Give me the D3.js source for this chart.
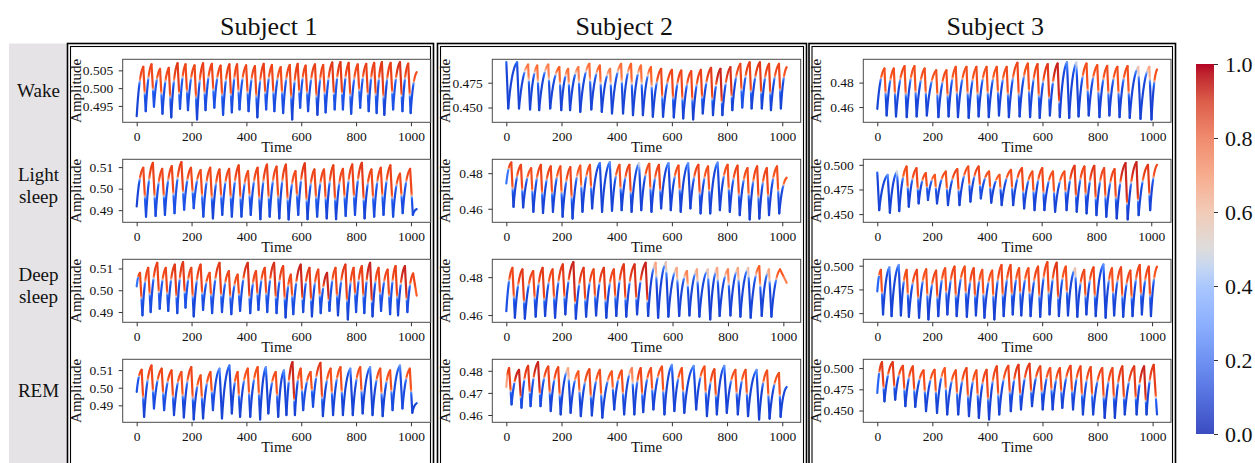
<!DOCTYPE html>
<html><head><meta charset="utf-8">
<script src="https://cdn.jsdelivr.net/npm/d3@7"></script>
<style>body{margin:0;background:#fff}svg{display:block}text{font-family:"Liberation Serif","Times New Roman",serif;fill:#111}</style>
</head><body><script>
// ---------------- DATA ----------------
const subjects = ["Subject 1","Subject 2","Subject 3"];
const stages = [["Wake"],["Light","sleep"],["Deep","sleep"],["REM"]];
const xTickLabels = ["0","200","400","600","800","1000"];
const cbTickLabels = ["0.0","0.2","0.4","0.6","0.8","1.0"];
const yTicksS1 = [["0.495","0.500","0.505"],["0.49","0.50","0.51"],["0.49","0.50","0.51"],["0.49","0.50","0.51"]];
const yTicksS2 = [["0.450","0.475"],["0.46","0.48"],["0.46","0.48"],["0.46","0.47","0.48"]];
const yTicksS3 = [["0.46","0.48"],["0.450","0.475","0.500"],["0.450","0.475","0.500"],["0.450","0.475","0.500"]];

// series: extrema of each waveform, [time, amplitude, colour weight]
const s1Wake = [[0,.4921,.05],[24,.5060,.85],[33,.4935,.08],[54,.5067,.85],[63,.4948,.1],[85,.5054,.82],[94,.4928,.08],[117,.5057,.85],[126,.4918,.05],[149,.5070,.9],[158,.4942,.1],[178,.5067,.85],[187,.4938,.08],[211,.5064,.85],[220,.4912,.05],[242,.5070,.88],[251,.4938,.08],[274,.5068,.85],[283,.4945,.1],[306,.5063,.85],[315,.4925,.08],[338,.5067,.88],[347,.4932,.08],[366,.5067,.85],[375,.4940,.1],[399,.5064,.85],[408,.4935,.08],[431,.5062,.85],[440,.4918,.05],[463,.5068,.88],[472,.4940,.1],[493,.5065,.85],[502,.4935,.08],[525,.5059,.82],[534,.4930,.08],[558,.5065,.85],[567,.4912,.05],[587,.5068,.88],[596,.4945,.1],[616,.5063,.85],[625,.4935,.08],[650,.5067,.88],[659,.4925,.05],[680,.5065,.85],[689,.4932,.08],[713,.5072,.9],[722,.4940,.1],[743,.5073,.9],[752,.4940,.1],[773,.5071,.88],[782,.4928,.08],[806,.5067,.85],[815,.4945,.1],[837,.5068,.88],[846,.4935,.08],[866,.5071,.88],[875,.4930,.08],[894,.5073,.9],[903,.4925,.05],[926,.5071,.88],[935,.4940,.1],[960,.5073,.92],[969,.4935,.08],[990,.5069,.88],[999,.4930,.08],[1021,.5045,.8]];
const s1Light = [[0,.4917,.05],[24,.5097,.85],[34,.4870,.08],[59,.5120,.88],[69,.4873,.08],[93,.5092,.85],[103,.4878,.08],[128,.5105,.85],[138,.4886,.1],[163,.5123,.88],[173,.4902,.1],[198,.5097,.85],[208,.4909,.1],[233,.5086,.82],[243,.4870,.08],[268,.5097,.85],[278,.4862,.05],[302,.5089,.85],[312,.4878,.08],[337,.5092,.85],[347,.4870,.08],[372,.5108,.88],[382,.4870,.08],[406,.5081,.82],[416,.4878,.08],[441,.5097,.85],[451,.4858,.05],[475,.5112,.88],[485,.4870,.08],[510,.5102,.85],[520,.4862,.05],[544,.5112,.88],[554,.4857,.05],[579,.5081,.82],[589,.4878,.08],[613,.5117,.9],[623,.4858,.05],[648,.5089,.85],[658,.4870,.08],[683,.5089,.85],[693,.4862,.05],[717,.5108,.88],[727,.4858,.05],[752,.5092,.85],[762,.4873,.08],[786,.5112,.88],[796,.4878,.08],[821,.5120,.9],[831,.4862,.05],[856,.5089,.85],[866,.4870,.08],[890,.5097,.85],[900,.4878,.08],[925,.5108,.88],[935,.4870,.08],[960,.5070,.82],[970,.4886,.08],[997,.5092,.85],[1007,.4878,.08],[1021,.4905,.1]];
const s1Deep = [[0,.5018,.3],[12,.5080,.85],[21,.4885,.08],[42,.5103,.85],[51,.4900,.08],[75,.5126,.88],[84,.4915,.1],[106,.5103,.85],[115,.4905,.08],[139,.5118,.9],[148,.4895,.08],[169,.5129,.9],[178,.4920,.1],[199,.5103,.85],[208,.4880,.05],[233,.5118,.88],[242,.4910,.08],[266,.5080,.82],[275,.4895,.08],[302,.5126,.9],[311,.4900,.08],[336,.5088,.85],[345,.4890,.08],[368,.5072,.82],[377,.4905,.08],[405,.5126,.92],[414,.4895,.08],[435,.5088,.85],[444,.4910,.08],[467,.5103,.85],[476,.4900,.08],[501,.5126,.92],[510,.4895,.08],[534,.5111,.88],[543,.4875,.05],[562,.5072,.82],[571,.4890,.08],[598,.5118,.95],[607,.4900,.08],[630,.5103,.9],[639,.4880,.05],[662,.5095,.85],[671,.4895,.08],[694,.5080,.95],[703,.4905,.08],[725,.5103,.85],[734,.4885,.05],[761,.5118,.9],[770,.4866,.05],[791,.5103,.85],[800,.4900,.08],[821,.5111,.88],[830,.4895,.08],[851,.5126,.95],[860,.4880,.05],[882,.5103,.85],[891,.4905,.08],[915,.5095,.85],[924,.4890,.08],[944,.5111,.88],[953,.4885,.05],[978,.5111,.95],[987,.4900,.08],[1008,.5077,.85],[1021,.4975,.7]];
const s1REM = [[0,.4976,.1],[18,.5102,.85],[27,.4835,.05],[54,.5126,.85],[63,.4882,.08],[91,.5108,.85],[100,.4873,.08],[127,.5098,.85],[136,.4845,.05],[163,.5089,.8],[172,.4831,.05],[199,.5117,.85],[208,.4820,.05],[233,.5070,.8],[242,.4826,.05],[269,.5089,.8],[278,.4873,.08],[302,.5108,.45],[311,.4826,.05],[338,.5126,.4],[347,.4854,.05],[368,.5089,.8],[377,.4835,.05],[405,.5108,.8],[414,.4835,.05],[441,.5117,.8],[450,.4820,.05],[471,.5117,.45],[480,.4854,.05],[507,.5089,.8],[516,.4835,.05],[537,.5098,.45],[546,.4845,.05],[568,.5145,.95],[577,.4845,.05],[598,.5108,.8],[607,.4873,.08],[634,.5089,.8],[643,.4892,.08],[670,.5141,.9],[679,.4839,.05],[707,.5108,.8],[716,.4845,.05],[743,.5117,.8],[752,.4845,.05],[779,.5108,.45],[788,.4845,.05],[815,.5117,.8],[824,.4854,.05],[851,.5117,.45],[860,.4845,.05],[888,.5108,.8],[897,.4839,.05],[924,.5098,.8],[933,.4873,.08],[960,.5126,.45],[969,.4882,.08],[996,.5108,.8],[1005,.4858,.05],[1021,.4912,.15]];

const s2Wake = [[0,.4957,.3],[7,.4490,.05],[39,.4956,.35],[46,.4490,.05],[79,.4933,.67],[86,.4480,.05],[112,.4923,.68],[119,.4473,.05],[152,.4933,.66],[159,.4490,.05],[192,.4907,.7],[199,.4473,.05],[224,.4890,.68],[231,.4473,.05],[261,.4907,.66],[268,.4457,.05],[301,.4940,.68],[308,.4480,.05],[339,.4923,.7],[346,.4457,.05],[376,.4890,.66],[383,.4440,.05],[416,.4940,.68],[423,.4440,.05],[452,.4940,.7],[459,.4423,.05],[488,.4923,.68],[495,.4423,.05],[524,.4907,.7],[531,.4407,.05],[561,.4890,.85],[568,.4407,.05],[600,.4880,.85],[607,.4400,.05],[634,.4873,.85],[641,.4390,.05],[670,.4867,.85],[677,.4380,.03],[705,.4880,.88],[712,.4440,.05],[742,.4900,.9],[749,.4423,.05],[776,.4890,.95],[783,.4423,.05],[812,.4907,.92],[819,.4473,.05],[848,.4940,.85],[855,.4500,.1],[882,.4956,.88],[889,.4490,.05],[919,.4956,.9],[926,.4490,.05],[952,.4940,.88],[959,.4473,.05],[988,.4940,.85],[995,.4490,.05],[1016,.4907,.8]];
const s2Light = [[0,.4743,.3],[18,.4860,.85],[26,.4611,.05],[53,.4847,.85],[61,.4608,.05],[90,.4828,.8],[98,.4583,.05],[125,.4847,.85],[133,.4577,.05],[161,.4838,.85],[169,.4583,.05],[196,.4838,.8],[204,.4555,.05],[232,.4834,.85],[240,.4545,.05],[268,.4842,.75],[276,.4583,.05],[303,.4847,.8],[311,.4602,.05],[339,.4857,.4],[347,.4583,.05],[375,.4862,.45],[383,.4589,.05],[410,.4847,.8],[418,.4592,.05],[446,.4847,.85],[454,.4583,.05],[481,.4857,.5],[489,.4592,.05],[518,.4853,.8],[526,.4583,.05],[553,.4847,.85],[561,.4602,.05],[588,.4857,.45],[596,.4592,.05],[624,.4843,.8],[632,.4583,.05],[659,.4857,.45],[667,.4602,.05],[696,.4847,.85],[704,.4574,.05],[731,.4838,.8],[739,.4574,.05],[766,.4860,.45],[774,.4592,.05],[802,.4847,.8],[810,.4583,.05],[838,.4842,.85],[846,.4564,.05],[874,.4828,.8],[882,.4540,.03],[909,.4838,.85],[917,.4545,.03],[944,.4828,.85],[952,.4564,.05],[981,.4838,.8],[989,.4574,.05],[1016,.4775,.75]];
const s2Deep = [[0,.4621,.1],[22,.4849,.85],[31,.4586,.05],[58,.4841,.9],[67,.4581,.05],[97,.4832,.85],[106,.4592,.05],[131,.4849,.9],[140,.4595,.05],[167,.4841,.85],[176,.4586,.05],[204,.4867,.9],[213,.4604,.05],[242,.4879,.95],[251,.4581,.05],[279,.4849,.9],[288,.4592,.05],[315,.4841,.85],[324,.4598,.05],[352,.4849,.9],[361,.4586,.05],[388,.4841,.85],[397,.4595,.05],[424,.4867,.9],[433,.4592,.05],[463,.4867,.92],[472,.4604,.05],[503,.4876,.95],[512,.4595,.05],[539,.4876,.6],[548,.4586,.05],[576,.4879,.55],[585,.4592,.05],[615,.4849,.6],[624,.4595,.05],[652,.4832,.65],[661,.4598,.05],[688,.4841,.6],[697,.4592,.05],[727,.4841,.55],[736,.4577,.03],[761,.4849,.6],[770,.4595,.05],[800,.4841,.65],[809,.4598,.05],[836,.4849,.6],[845,.4592,.05],[873,.4849,.55],[882,.4586,.05],[913,.4858,.7],[922,.4595,.05],[948,.4841,.6],[957,.4592,.05],[988,.4841,.75],[1012,.4770,.65]];
const s2REM = [[0,.4727,.6],[10,.4812,.88],[19,.4648,.08],[46,.4804,.95],[55,.4633,.08],[79,.4822,.9],[88,.4640,.08],[115,.4839,.95],[124,.4640,.08],[152,.4819,.85],[161,.4618,.05],[188,.4816,.85],[197,.4603,.05],[224,.4812,.6],[233,.4610,.05],[261,.4797,.75],[270,.4595,.05],[301,.4807,.85],[310,.4598,.05],[339,.4804,.8],[348,.4588,.05],[382,.4797,.75],[391,.4625,.05],[418,.4801,.8],[427,.4603,.05],[455,.4812,.65],[464,.4603,.05],[487,.4812,.85],[496,.4613,.05],[524,.4812,.8],[533,.4625,.05],[564,.4819,.8],[573,.4603,.05],[600,.4827,.45],[609,.4618,.05],[636,.4812,.8],[645,.4610,.05],[679,.4822,.45],[688,.4625,.05],[718,.4819,.8],[727,.4595,.05],[754,.4807,.85],[763,.4603,.05],[790,.4822,.45],[799,.4610,.05],[830,.4804,.8],[839,.4603,.05],[867,.4804,.8],[876,.4595,.05],[907,.4804,.45],[916,.4580,.03],[945,.4801,.8],[954,.4584,.03],[988,.4790,.8],[994,.4592,.05],[1016,.4727,.2]];

const s3Wake = [[0,.4586,.05],[26,.4915,.8],[34,.4531,.05],[60,.4915,.8],[68,.4523,.05],[99,.4934,.82],[107,.4518,.05],[135,.4934,.8],[143,.4523,.05],[172,.4915,.8],[180,.4531,.05],[214,.4901,.8],[222,.4518,.05],[251,.4901,.82],[259,.4523,.05],[285,.4929,.8],[293,.4518,.05],[324,.4929,.8],[332,.4512,.05],[360,.4929,.82],[368,.4523,.05],[397,.4929,.8],[405,.4518,.05],[434,.4929,.8],[442,.4531,.05],[470,.4929,.82],[478,.4518,.05],[509,.4962,.85],[517,.4523,.05],[547,.4956,.8],[555,.4518,.05],[582,.4951,.85],[590,.4512,.05],[619,.4951,.9],[627,.4531,.05],[655,.4956,.95],[663,.4518,.05],[689,.4967,.45],[697,.4512,.05],[723,.4964,.5],[731,.4523,.05],[760,.4956,.8],[768,.4531,.05],[799,.4942,.8],[807,.4518,.05],[835,.4937,.82],[843,.4531,.05],[872,.4929,.8],[880,.4518,.05],[909,.4934,.8],[917,.4512,.05],[948,.4929,.55],[956,.4504,.05],[988,.4929,.6],[996,.4499,.03],[1016,.4907,.8]];
const s3Light = [[0,.4922,.3],[7,.4541,.05],[38,.4898,.45],[46,.4514,.05],[72,.4932,.5],[80,.4531,.05],[107,.4983,.8],[115,.4575,.05],[143,.4966,.85],[151,.4609,.05],[177,.4915,.8],[185,.4643,.08],[210,.4898,.75],[218,.4609,.05],[250,.4932,.8],[258,.4592,.05],[292,.4956,.85],[300,.4592,.05],[332,.4983,.8],[340,.4626,.05],[370,.4983,.85],[378,.4660,.08],[408,.4932,.8],[416,.4616,.05],[446,.4898,.75],[454,.4592,.05],[488,.4949,.8],[496,.4592,.05],[528,.4966,.85],[536,.4558,.05],[566,.4932,.8],[574,.4541,.05],[602,.4966,.85],[610,.4541,.05],[641,.4932,.8],[649,.4524,.05],[683,.4932,.8],[691,.4541,.05],[720,.4990,.9],[728,.4524,.05],[756,.4983,.85],[764,.4507,.05],[792,.4990,.9],[800,.4490,.05],[828,.4966,.85],[836,.4473,.05],[866,.4956,.85],[874,.4456,.03],[906,.5017,.95],[914,.4446,.03],[946,.5027,.95],[954,.4490,.05],[988,.5000,.9],[996,.4541,.05],[1021,.5000,.85]];
const s3Deep = [[0,.4729,.2],[13,.4955,.8],[21,.4486,.05],[44,.4983,.45],[52,.4469,.05],[78,.5007,.45],[86,.4476,.05],[107,.4955,.8],[115,.4462,.05],[144,.4955,.85],[152,.4452,.05],[178,.4962,.8],[186,.4434,.03],[214,.4948,.85],[222,.4469,.05],[247,.4973,.8],[255,.4486,.05],[281,.4990,.85],[289,.4469,.05],[318,.4990,.8],[326,.4462,.05],[351,.4973,.85],[359,.4476,.05],[382,.4955,.8],[390,.4452,.05],[418,.4948,.8],[426,.4434,.03],[452,.5007,.85],[460,.4469,.05],[485,.5007,.85],[493,.4486,.05],[516,.4973,.8],[524,.4476,.05],[550,.4973,.8],[558,.4469,.05],[585,.4990,.85],[593,.4462,.05],[619,.5037,.85],[627,.4486,.05],[653,.5031,.9],[661,.4469,.05],[686,.4990,.8],[694,.4476,.05],[720,.4973,.55],[728,.4462,.05],[753,.4955,.85],[761,.4486,.05],[787,.4983,.85],[795,.4469,.05],[823,.5014,.45],[831,.4452,.05],[854,.4973,.8],[862,.4476,.05],[887,.4983,.85],[895,.4462,.05],[921,.4948,.85],[929,.4469,.05],[955,.5007,.85],[963,.4486,.05],[988,.4990,.85],[996,.4469,.05],[1018,.4990,.8]];
const s3REM = [[0,.4707,.2],[17,.5070,.9],[26,.4609,.05],[56,.5070,.9],[65,.4629,.05],[93,.5027,.85],[102,.4551,.05],[129,.5020,.85],[138,.4543,.05],[168,.4973,.8],[177,.4492,.05],[208,.4980,.8],[217,.4473,.05],[245,.5000,.75],[254,.4453,.05],[285,.4973,.8],[294,.4453,.05],[324,.5000,.85],[333,.4434,.05],[360,.4973,.8],[369,.4414,.03],[397,.4980,.85],[406,.4395,.03],[434,.5020,.85],[443,.4453,.05],[476,.5027,.85],[485,.4492,.05],[513,.5039,.9],[522,.4512,.05],[553,.5051,.9],[562,.4551,.05],[592,.5020,.85],[601,.4512,.05],[628,.5000,.8],[637,.4512,.05],[663,.5000,.85],[672,.4531,.05],[702,.5027,.85],[711,.4512,.05],[738,.5020,.85],[747,.4453,.05],[775,.5012,.85],[784,.4453,.05],[817,.5000,.85],[826,.4414,.03],[854,.5000,.85],[863,.4414,.03],[890,.5020,.9],[899,.4453,.05],[933,.5020,.9],[942,.4453,.05],[969,.5020,.95],[978,.4453,.05],[1004,.5039,.9],[1016,.4453,.1]];

const series = [[s1Wake,s1Light,s1Deep,s1REM],[s2Wake,s2Light,s2Deep,s2REM],[s3Wake,s3Light,s3Deep,s3REM]];
const yTicks = [yTicksS1,yTicksS2,yTicksS3];

// ---------------- LAYOUT ----------------
const W = 1255, H = 463;
const colX = [[122.7,430.7],[492.3,800.7],[863.3,1171]];
const rowY = [59.3,159.3,259.3,359.3];
const frameH = 63;
const titleX = [268.7,624.2,995.3];
const boxX = [[67.5,433.5],[437.5,806.5],[809,1175.5]];

const svg = d3.select("body").append("svg").attr("width",W).attr("height",H);
const defs = svg.append("defs");
svg.append("rect").attr("width",W).attr("height",H).attr("fill","#fff");

// grey label strip
svg.append("rect").attr("x",9).attr("y",43.5).attr("width",60).attr("height",H).attr("fill","#e5e3e5");

// subject boxes (double border)
boxX.forEach(([a,b]) => {
  svg.append("rect").attr("x",a).attr("y",43.5).attr("width",b-a).attr("height",440)
    .attr("fill","#fff").attr("stroke","#000").attr("stroke-width",1.6);
  svg.append("rect").attr("x",a+3).attr("y",46.5).attr("width",b-a-6).attr("height",440)
    .attr("fill","none").attr("stroke","#000").attr("stroke-width",1.1);
});

// titles
subjects.forEach((s,i) => {
  svg.append("text").attr("x",titleX[i]).attr("y",34.5).attr("text-anchor","middle")
    .attr("font-size",26).text(s);
});

// row labels
stages.forEach((lines,r) => {
  const cy = rowY[r] + frameH/2;
  const t = svg.append("text").attr("text-anchor","middle").attr("font-size",19);
  lines.forEach((ln,k) => {
    const off = lines.length === 1 ? 6.5 : (k === 0 ? -9.5 : 12.5);
    t.append("tspan").attr("x",38.5).attr("y",cy+off).text(ln);
  });
});

// line colour map (saturated blue -> grey -> orange -> dark red)
const lineColor = d3.scaleLinear()
  .domain([0,.15,.42,.5,.58,.7,.88,1])
  .range(["#1538c8","#1f5cf3","#4a86ff","#d9d9de","#f9b394","#ff5e22","#ea4018","#b01020"])
  .clamp(true);
const sig = x => 1/(1+Math.exp(-x));
let gid = 0;

series.forEach((col,ci) => {
  col.forEach((data,ri) => {
    const [x0,x1] = colX[ci];
    const y0 = rowY[ri], y1 = rowY[ri] + frameH;
    const tExt = d3.extent(data, d => d[0]);
    const vExt = d3.extent(data, d => d[1]);
    const tp = (tExt[1]-tExt[0])*0.05, vp = (vExt[1]-vExt[0])*0.05;
    const x = d3.scaleLinear().domain([tExt[0]-tp, tExt[1]+tp]).range([x0,x1]);
    const y = d3.scaleLinear().domain([vExt[0]-vp, vExt[1]+vp]).range([y1,y0]);
    const g = svg.append("g");

    // segments with gradient colouring
    for (let i = 1; i < data.length; i++) {
      const p = data[i-1], a = data[i];
      const rise = a[1] >= p[1];
      const hi = rise ? a : p, lo = rise ? p : a;
      const wH = hi[2], wL = lo[2];
      const s = rise ? Math.max(0.5, Math.min(0.98, 1 - 0.6*(wH-0.35)))
                     : Math.max(0.15, Math.min(0.98, 1 - 1.2*(wH-0.35)));
      const id = "sg" + (gid++);
      const lx = x(lo[0]), ly = y(lo[1]), hy = y(hi[1]);
      const lg = defs.append("linearGradient").attr("id",id).attr("gradientUnits","userSpaceOnUse")
        .attr("x1",lx).attr("y1",ly).attr("x2",lx).attr("y2",hy);
      const offs = [0, s-0.14, s-0.07, s-0.035, s, s+0.035, s+0.07, s+0.14, 1]
        .filter(o => o >= 0 && o <= 1).sort((m,n) => m-n);
      offs.forEach(o => {
        const v = wL + (wH - wL) * sig((o - s)/0.035);
        lg.append("stop").attr("offset",o).attr("stop-color",lineColor(v));
      });
      const px = x(p[0]), py = y(p[1]), ax = x(a[0]), ay = y(a[1]);
      let d;
      if (rise) {
        // gently concave rise toward a pointed peak
        const dx = ax - px, dy = ay - py;
        d = `M${px},${py}C${px+0.22*dx},${py+0.5*dy} ${px+0.6*dx},${py+0.92*dy} ${ax},${ay}`;
      } else {
        d = d3.line()([[px,py],[ax,ay]]);
      }
      g.append("path").attr("d", d)
        .attr("fill","none").attr("stroke",`url(#${id})`)
        .attr("stroke-width",2.2).attr("stroke-linecap","round");
    }

    // frame
    g.append("rect").attr("x",x0).attr("y",y0).attr("width",x1-x0).attr("height",frameH)
      .attr("fill","none").attr("stroke","#4a4a4a").attr("stroke-width",1);

    // x axis
    const xa = g.append("g").attr("transform",`translate(0,${y1})`)
      .call(d3.axisBottom(x).tickValues(xTickLabels.map(Number)).tickFormat((d,i)=>xTickLabels[i]).tickSize(4).tickPadding(5.5));
    xa.select(".domain").remove();
    xa.selectAll("line").attr("stroke","#333");
    xa.selectAll("text").attr("font-size",13.5).attr("font-family","Liberation Serif").attr("fill","#111");

    // y axis
    const yl = yTicks[ci][ri];
    const ya = g.append("g").attr("transform",`translate(${x0},0)`)
      .call(d3.axisLeft(y).tickValues(yl.map(Number)).tickFormat((d,i)=>yl[i]).tickSize(4).tickPadding(5.5));
    ya.select(".domain").remove();
    ya.selectAll("line").attr("stroke","#333");
    ya.selectAll("text").attr("font-size",13.5).attr("font-family","Liberation Serif").attr("fill","#111");

    // axis labels
    g.append("text").attr("x",(x0+x1)/2).attr("y",y1+29.4).attr("text-anchor","middle")
      .attr("font-size",15).text("Time");
    g.append("text").attr("transform",`translate(${x0-42.2},${(y0+y1)/2}) rotate(-90)`)
      .attr("text-anchor","middle").attr("font-size",15).text("Amplitude");
  });
});

// colour bar (coolwarm)
const cw = ["#3b4cc0","#5470de","#6f92f3","#8db0fe","#aac7fd","#c5d6f2","#dddcdc","#f2cbb7","#f7ac8e","#f08b6e","#dc5d4a","#c0282f","#b40426"];
const cb = defs.append("linearGradient").attr("id","cbgrad").attr("x1",0).attr("y1",1).attr("x2",0).attr("y2",0);
const cbStops = [0,.1,.2,.3,.4,.45,.5,.6,.7,.8,.9,.97,1];
cw.forEach((c,i) => cb.append("stop").attr("offset",cbStops[i]).attr("stop-color",c));
const cbY = d3.scaleLinear().domain([0,1]).range([434,64]);
svg.append("rect").attr("x",1196).attr("y",64).attr("width",18).attr("height",370).attr("fill","url(#cbgrad)");
const cba = svg.append("g").attr("transform","translate(1214,0)")
  .call(d3.axisRight(cbY).tickValues(cbTickLabels.map(Number)).tickFormat((d,i)=>cbTickLabels[i]).tickSize(4).tickPadding(7));
cba.select(".domain").remove();
cba.selectAll("line").attr("stroke","#333");
cba.selectAll("text").attr("font-size",22).attr("font-family","Liberation Serif").attr("fill","#111");
</script></body></html>
